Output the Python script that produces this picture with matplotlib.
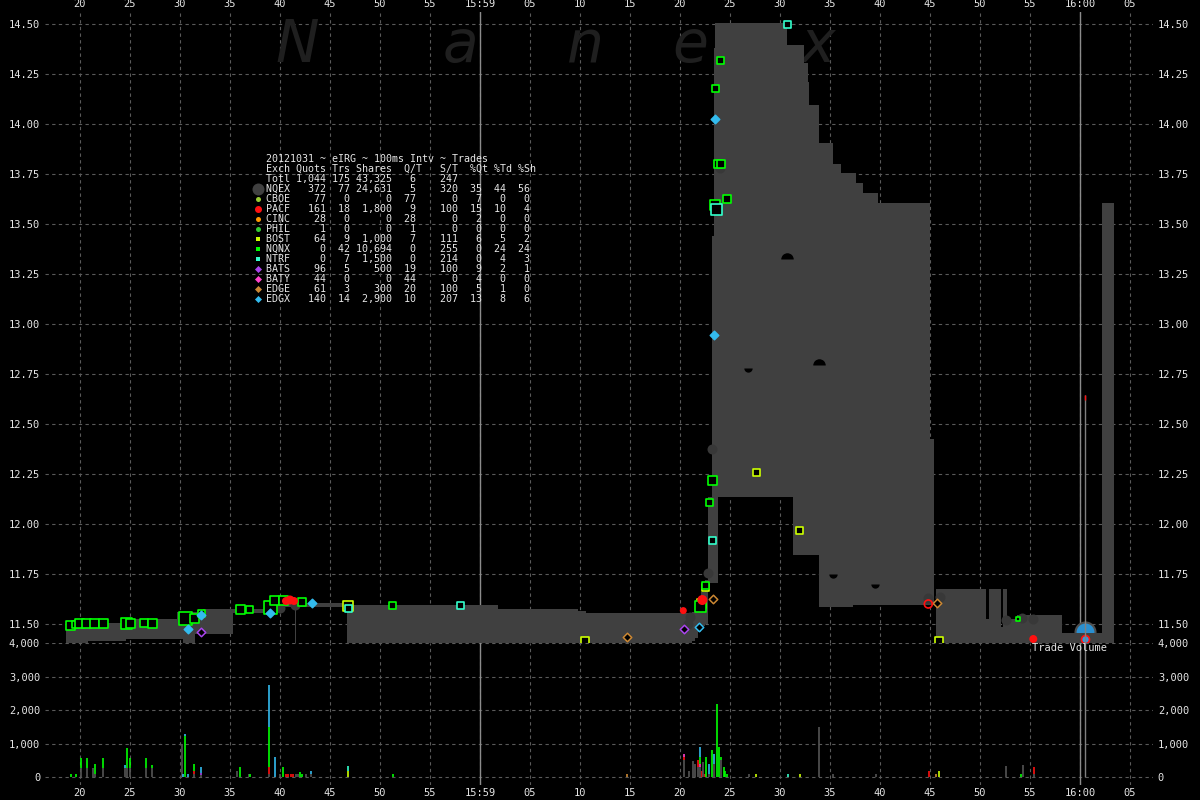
import matplotlib
matplotlib.use("Agg")
import matplotlib.pyplot as plt
import numpy as np

plt.rcParams['font.family'] = ['DejaVu Sans Mono', 'DejaVu Sans']

W, H = 1200, 800
FG = '#e6e6e6'
GRID = '#5a5a5a'
BAND = '#404040'

# time = seconds after 15:58:00
# NBBO band, step starts (bid 11.30 = below the panel)
band_t = [18.6, 20.8, 24.6, 29.7, 30.3, 31.5, 32.3, 35.3, 38.8, 41.5, 41.6, 46.7, 61.8, 69.8, 70.6,
          81.2, 81.5, 81.8, 82.1, 82.5, 82.8, 83.2, 83.4, 83.5, 83.8, 90.67, 91.27, 92.4, 92.77, 92.9,
          93.9, 95.27, 96.07, 97.27, 97.57, 98.27, 99.8, 105.0, 105.4, 105.6, 110.6, 110.9, 112.1,
          112.33, 112.67, 113.67, 118.2, 122.2, 123.37]
band_ask = [11.505, 11.505, 11.525, 11.56, 11.56, 11.56, 11.575, 11.575, 11.605, 11.605, 11.605, 11.595, 11.575, 11.565, 11.555,
            11.56, 11.58, 11.62, 11.66, 11.72, 12.135, 13.44, 14.38, 14.505, 14.505, 14.395, 14.395, 14.303, 14.21, 14.095,
            13.903, 13.80, 13.755, 13.755, 13.705, 13.655, 13.605, 12.425, 11.60, 11.675, 11.525, 11.675, 11.487,
            11.675, 11.523, 11.545, 11.457, 13.603, 13.603]
band_bid = [11.30, 11.415, 11.425, 11.425, 11.30, 11.45, 11.45, 11.555, 11.585, 11.30, 11.585, 11.30, 11.30, 11.30, 11.30,
            11.415, 11.43, 11.46, 11.49, 11.50, 11.705, 11.705, 11.705, 11.705, 12.135, 12.135, 11.845, 11.845, 11.845, 11.845,
            11.587, 11.587, 11.587, 11.595, 11.595, 11.595, 11.595, 11.595, 11.60, 11.30, 11.30, 11.30, 11.30,
            11.30, 11.30, 11.30, 11.30, 11.30, 11.30]

colors = {'NQEX': '#404040', 'CBOE': '#99cc33', 'PACF': '#ff1010', 'CINC': '#ff9900',
          'PHIL': '#33cc33', 'BOST': '#ccff00', 'NQNX': '#00ff00', 'NTRF': '#33ffcc',
          'BATS': '#aa44ee', 'BATY': '#ff44cc', 'EDGE': '#cc8833', 'EDGX': '#33bbee'}

# trades (time, price, size px)
nqnx_t = [19.07, 19.57, 19.9, 20.6, 21.43, 22.3, 24.68, 25.0, 26.43, 27.2, 30.5, 31.4, 32.1, 36.0, 36.98,
          39.0, 39.4, 40.3, 42.17, 51.27, 82.0, 82.57, 82.9, 83.2, 83.5, 84.07, 83.8, 84.1, 84.67, 83.53, 113.8]
nqnx_p = [11.495, 11.50, 11.505, 11.505, 11.505, 11.505, 11.505, 11.505, 11.505, 11.505, 11.53, 11.528, 11.555, 11.575, 11.575,
          11.585, 11.62, 11.62, 11.61, 11.595, 11.587, 11.695, 12.11, 12.217, 14.176, 14.317, 13.80, 13.80, 13.627, 13.595, 11.525]
nqnx_sz = [9, 7, 9, 9, 9, 9, 11, 9, 8, 9, 13, 9, 7, 9, 7, 13, 9, 9, 8, 7, 11, 7, 7, 9, 7, 7, 8, 8, 8, 10, 4]

bost_t = [46.77, 70.5, 82.13, 82.57, 87.6, 91.9, 105.9]
bost_p = [11.59, 11.417, 11.603, 11.685, 12.257, 11.967, 11.417]
bost_sz = [10, 8, 9, 7, 7, 7, 8]

ntrf_t = [46.8, 58.0, 90.77, 83.67, 83.2]
ntrf_p = [11.58, 11.595, 14.498, 13.575, 11.92]
ntrf_sz = [7, 7, 7, 11, 7]

edgx_t = [30.83, 32.13, 43.17, 39.0, 83.53, 83.43]
edgx_p = [11.474, 11.545, 11.604, 11.555, 14.023, 12.943]
edgx_open_t = [81.93]
edgx_open_p = [11.487]

bats_t = [32.13, 80.43]
bats_p = [11.46, 11.474]
edge_t = [74.67, 83.33, 105.67]
edge_p = [11.434, 11.624, 11.604]

pacf_t = [40.6, 41.0, 41.4, 80.33, 82.23, 115.33]
pacf_p = [11.615, 11.62, 11.615, 11.567, 11.62, 11.425]
pacf_sz = [8, 9, 8, 7, 10, 8]
pacf_open_t = [104.83]
pacf_open_p = [11.60]

nqex_t = [39.0, 40.0, 41.5, 81.0, 80.8, 82.77, 83.17, 84.0, 104.83, 106.0, 112.6, 114.17, 115.27]
nqex_p = [11.587, 11.58, 11.595, 11.537, 11.50, 11.755, 12.373, 13.78, 11.63, 11.634, 11.52, 11.53, 11.524]

# dark holes inside the band
hole_top_t = [93.9, 90.67]
hole_top_p = [12.795, 13.325]
hole_top_sz = [13, 6]
hole_bot_t = [86.8, 95.27, 99.5]
hole_bot_p = [12.78, 11.75, 11.70]

cross_t, cross_p, cross_vol = 120.5, 11.46, 11400

# trade volume bars: (time, [(exchange, shares), ...]) stacked bottom-up
vol_bars = [
    (19.1, [('NQNX', 100)]), (19.6, [('NQNX', 100)]),
    (20.13, [('NQEX', 270), ('NQNX', 290)]), (20.73, [('NQEX', 270), ('NQNX', 290)]),
    (21.33, [('NQEX', 270)]), (21.53, [('NQEX', 100), ('NQNX', 290)]),
    (22.33, [('NQEX', 270), ('NQNX', 290)]), (24.5, [('NQEX', 270), ('EDGX', 100)]),
    (24.7, [('NQEX', 270), ('NQNX', 590)]), (25.0, [('NQEX', 270), ('NQNX', 300)]),
    (26.6, [('NQEX', 270), ('NQNX', 290)]), (27.23, [('NQEX', 270), ('NQNX', 100)]),
    (30.23, [('NQEX', 980)]), (30.33, [('EDGX', 100)]),
    (30.53, [('NQNX', 1230), ('EDGX', 45)]), (30.83, [('EDGX', 100)]),
    (31.43, [('NQEX', 100), ('PACF', 80), ('NQNX', 210)]),
    (32.13, [('NQEX', 60), ('BATS', 60), ('EDGX', 190)]),
    (35.73, [('NQEX', 190)]), (36.0, [('NQNX', 300)]),
    (36.93, [('NQEX', 100)]), (37.03, [('NQNX', 100)]),
    (38.93, [('NQEX', 100), ('PACF', 200), ('NQNX', 1200), ('EDGX', 1250)]),
    (39.47, [('EDGX', 600)]), (40.0, [('NQEX', 100)]), (40.33, [('NQNX', 300)]),
    (40.6, [('PACF', 100)]), (40.8, [('PACF', 100)]), (41.13, [('PACF', 100)]), (41.33, [('PACF', 100)]),
    (41.6, [('NQEX', 100)]), (41.8, [('NQEX', 100)]), (42.0, [('NQNX', 160)]), (42.2, [('NQNX', 100)]),
    (42.6, [('NQEX', 100)]), (43.13, [('NQEX', 100), ('EDGX', 100)]),
    (46.83, [('BOST', 200), ('NTRF', 150)]), (51.33, [('NQNX', 100)]),
    (74.7, [('EDGE', 100)]),
    (80.4, [('NQEX', 510), ('PACF', 90), ('BATY', 100)]), (80.9, [('NQEX', 200)]),
    (81.26, [('NQEX', 490)]), (81.5, [('NQEX', 400)]), (81.75, [('NQEX', 300), ('PACF', 200)]),
    (81.95, [('NQEX', 300), ('BATY', 100), ('NQNX', 200), ('EDGX', 300)]),
    (82.15, [('PACF', 200)]), (82.3, [('NQEX', 450)]), (82.45, [('PACF', 100)]),
    (82.64, [('NQNX', 600)]), (82.9, [('NQEX', 100), ('EDGX', 300)]), (83.2, [('NQNX', 800)]),
    (83.4, [('NQEX', 400), ('EDGX', 300)]), (83.7, [('NQNX', 2180)]), (83.94, [('NQNX', 900)]),
    (84.13, [('NQEX', 500), ('NQNX', 100)]), (84.35, [('NQNX', 300)]), (84.5, [('NQNX', 200)]),
    (84.7, [('NQNX', 100)]), (86.9, [('NQEX', 100)]), (87.6, [('BOST', 100)]),
    (90.8, [('NTRF', 100)]), (92.0, [('BOST', 100)]), (93.93, [('NQEX', 1490)]),
    (95.34, [('NQEX', 100)]), (99.55, [('NQEX', 100)]), (104.9, [('PACF', 200)]),
    (105.6, [('EDGE', 100)]), (105.9, [('BOST', 200)]), (112.64, [('NQEX', 350)]),
    (114.1, [('NQNX', 100)]), (114.3, [('NQEX', 380)]), (115.36, [('NQEX', 100), ('PACF', 200)]),
]

table_title = "20121031 ~ eIRG ~ 100ms Intv ~ Trades"
table_head = "Exch Quots Trs Shares  Q/T   S/T  %Qt %Td %Sh"
table_total = ("Totl", "1,044", "175", "43,325", "6", "247")
table_rows = [
    ("NQEX", "372", "77", "24,631", "5", "320", "35", "44", "56"),
    ("CBOE", "77", "0", "0", "77", "0", "7", "0", "0"),
    ("PACF", "161", "18", "1,800", "9", "100", "15", "10", "4"),
    ("CINC", "28", "0", "0", "28", "0", "2", "0", "0"),
    ("PHIL", "1", "0", "0", "1", "0", "0", "0", "0"),
    ("BOST", "64", "9", "1,000", "7", "111", "6", "5", "2"),
    ("NQNX", "0", "42", "10,694", "0", "255", "0", "24", "24"),
    ("NTRF", "0", "7", "1,500", "0", "214", "0", "4", "3"),
    ("BATS", "96", "5", "500", "19", "100", "9", "2", "1"),
    ("BATY", "44", "0", "0", "44", "0", "4", "0", "0"),
    ("EDGE", "61", "3", "300", "20", "100", "5", "1", "0"),
    ("EDGX", "140", "14", "2,900", "10", "207", "13", "8", "6"),
]
legend_marker = {'NQEX': ('o', 12), 'CBOE': ('o', 5), 'PACF': ('o', 7), 'CINC': ('o', 5),
                 'PHIL': ('o', 5), 'BOST': ('s', 5), 'NQNX': ('s', 5), 'NTRF': ('s', 5),
                 'BATS': ('D', 5), 'BATY': ('D', 5), 'EDGE': ('D', 5), 'EDGX': ('D', 5)}


def s_px(px):
    return (np.asarray(px) * 0.72) ** 2


fig = plt.figure(figsize=(12, 8), dpi=100, facecolor='black')
axp = fig.add_axes([45 / W, 1 - 643 / H, 1108 / W, 631 / H], facecolor='black')
axv = fig.add_axes([45 / W, 1 - 785 / H, 1108 / W, 142 / H], facecolor='black')

xt = np.arange(20, 126, 5)
xlab = ['15:59' if t == 60 else '16:00' if t == 120 else f'{t % 60:02d}' for t in xt]

for ax in (axp, axv):
    for s in ax.spines.values():
        s.set_visible(False)
    ax.set_axisbelow(True)
    ax.grid(True, color=GRID, linestyle=(0, (3, 3)), linewidth=0.8)
    ax.tick_params(colors=FG, labelsize=7.5, length=0)
    ax.set_xlim(16.5, 127.3)
    ax.set_xticks(xt)
    ax.set_xticklabels(xlab)
    for t in (60, 120):
        ax.axvline(t, color='#8c8c8c', lw=1, zorder=0.8)

axp.set_ylim(11.405, 14.56)
pt = np.arange(11.5, 14.51, 0.25)
axp.set_yticks(pt)
axp.set_yticklabels([f'{v:.2f}' for v in pt])
axp.tick_params(axis='x', top=True, labeltop=True, bottom=False, labelbottom=False, pad=2)
axp.tick_params(axis='y', left=True, right=True, labelleft=True, labelright=True, pad=3.5)

axv.set_ylim(-230, 4000)
vt = [0, 1000, 2000, 3000, 4000]
axv.set_yticks(vt)
axv.set_yticklabels([f'{v:,}' for v in vt])
axv.tick_params(axis='x', bottom=True, labelbottom=True, pad=2)
axv.tick_params(axis='y', left=True, right=True, labelleft=True, labelright=True, pad=3.5)

# watermark
for letter, t in zip('Nanex', [41.7, 58.0, 70.5, 81.0, 93.8]):
    axp.text(t, 14.31, letter, fontsize=42, style='italic', color='#1f1f1f', family='DejaVu Sans',
             ha='center', va='baseline', zorder=0.6)

# closing cross dome sits behind the band
axp.scatter([cross_t], [cross_p], s=s_px(20), c='#2a8fd0', edgecolors='#505050', linewidths=1.5, zorder=0.9)

# NBBO band
axp.fill_between(band_t, band_bid, band_ask, step='post', color=BAND, linewidth=0, zorder=1)

axp.scatter(nqex_t, nqex_p, s=s_px(10), c='#383838', linewidths=0, zorder=2)
axp.plot(hole_top_t, hole_top_p, 'o', fillstyle='top', markerfacecolor='black', markerfacecoloralt='none',
         markeredgewidth=0, ms=9, zorder=2.5)
axp.plot(hole_bot_t, hole_bot_p, 'o', fillstyle='bottom', markerfacecolor='black', markerfacecoloralt='none',
         markeredgewidth=0, ms=6, zorder=2.5)

sq = dict(marker='s', facecolors='black', linewidths=1.2, zorder=3)
axp.scatter(bost_t, bost_p, s=s_px(bost_sz), edgecolors=colors['BOST'], **sq)
axp.scatter(nqnx_t, nqnx_p, s=s_px(nqnx_sz), edgecolors=colors['NQNX'], **sq)
axp.scatter(ntrf_t, ntrf_p, s=s_px(ntrf_sz), edgecolors=colors['NTRF'], **sq)

dia = dict(marker='D', linewidths=1.1, zorder=4)
axp.scatter(edgx_t, edgx_p, s=s_px(6), c=colors['EDGX'], **dia)
axp.scatter(edgx_open_t, edgx_open_p, s=s_px(6), facecolors='black', edgecolors=colors['EDGX'], **dia)
axp.scatter(bats_t, bats_p, s=s_px(6), facecolors='black', edgecolors=colors['BATS'], **dia)
axp.scatter(edge_t, edge_p, s=s_px(6), facecolors='black', edgecolors=colors['EDGE'], **dia)

axp.scatter(pacf_t, pacf_p, s=s_px(pacf_sz), c=colors['PACF'], linewidths=0, zorder=5)
axp.scatter(pacf_open_t, pacf_open_p, s=s_px(8), facecolors='none', edgecolors=colors['PACF'], linewidths=1.2, zorder=5)
axp.scatter([cross_t], [11.425], s=s_px(8), c='#3399dd', edgecolors=colors['PACF'], linewidths=1.2, zorder=5)

# volume bars
for t, segs in vol_bars:
    base = 0
    for ex, v in segs:
        c = '#555555' if ex == 'NQEX' else colors[ex]
        axv.vlines(t, base, base + v, color=c, lw=1.2, zorder=3)
        base += v
axv.vlines(cross_t, 0, cross_vol, color='#808080', lw=1, zorder=6, clip_on=False)
axv.vlines(cross_t, cross_vol - 150, cross_vol, color=colors['PACF'], lw=1, zorder=6, clip_on=False)
axv.text(115.25, 3850, 'Trade Volume', color=FG, fontsize=7.5, ha='left', va='center', zorder=7)

# stats table
lines = [table_title, table_head,
         f"{table_total[0]:<4}{table_total[1]:>6}{table_total[2]:>4}{table_total[3]:>7}{table_total[4]:>4}{table_total[5]:>7}"]
for r in table_rows:
    lines.append(f"{r[0]:<4}{r[1]:>6}{r[2]:>4}{r[3]:>7}{r[4]:>4}{r[5]:>7}{r[6]:>4}{r[7]:>4}{r[8]:>4}")
for i, line in enumerate(lines):
    fig.text(266 / W, 1 - (159 + 10 * i) / H, line, color=FG, fontsize=7.2, ha='left', va='center')
for i, r in enumerate(table_rows):
    m, px = legend_marker[r[0]]
    fig.lines.append(plt.Line2D([257.5 / W], [1 - (189 + 10 * i) / H], transform=fig.transFigure,
                                marker=m, ms=px * 0.72, color=colors[r[0]], markeredgewidth=0, linestyle='none'))

fig.savefig('out.png', dpi=100, facecolor='black')
